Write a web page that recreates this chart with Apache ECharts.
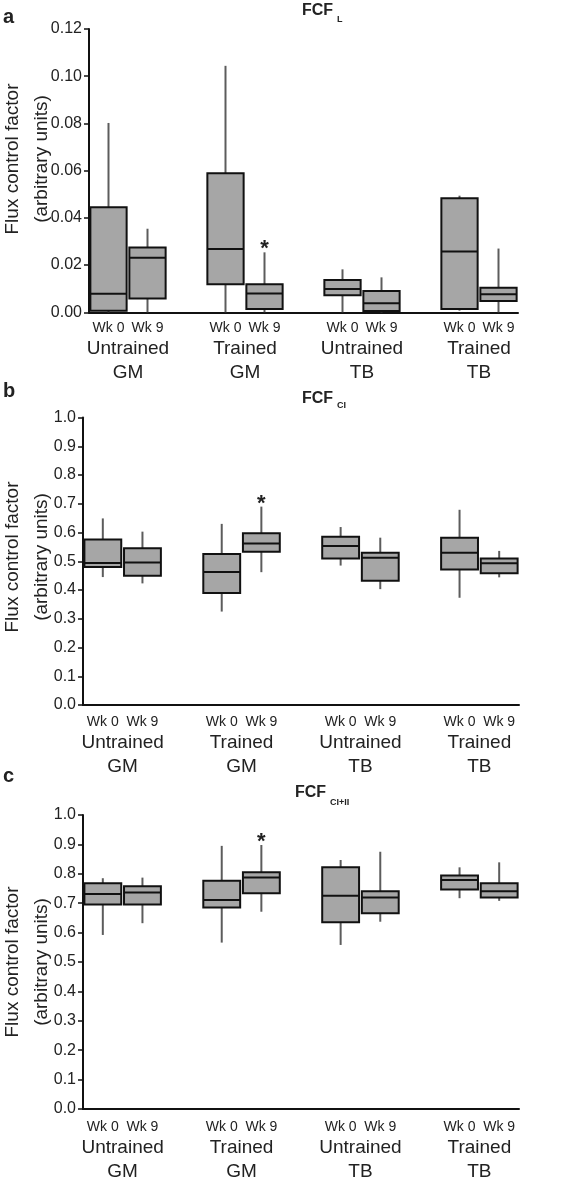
<!DOCTYPE html>
<html>
<head>
<meta charset="utf-8">
<script src="https://cdn.jsdelivr.net/npm/echarts@6/dist/echarts.min.js"></script>
<style>
  html, body { margin: 0; padding: 0; background: #fff; }
  #chart { width: 566px; height: 1181px; }
</style>
</head>
<body>
<div id="chart"></div>
<script>
// ---- data ----
const weekLabels = ['Wk 0', 'Wk 9'];
const groupLabels = ['Untrained\nGM', 'Trained\nGM', 'Untrained\nTB', 'Trained\nTB'];
// box order: UGM wk0, UGM wk9, TGM wk0, TGM wk9, UTB wk0, UTB wk9, TTB wk0, TTB wk9
const yTicksA = [0, 0.02, 0.04, 0.06, 0.08, 0.10, 0.12];
const yTicksBC = [0, 0.1, 0.2, 0.3, 0.4, 0.5, 0.6, 0.7, 0.8, 0.9, 1.0];

const aMin = [0.000, 0.000, 0.000, 0.000, 0.000, 0.000, 0.0007, 0.000];
const aQ1  = [0.0007, 0.0058, 0.0119, 0.0014, 0.0072, 0.0005, 0.0014, 0.0048];
const aMed = [0.0079, 0.0231, 0.0268, 0.0080, 0.0099, 0.0038, 0.0258, 0.0076];
const aQ3  = [0.0445, 0.0275, 0.0589, 0.0119, 0.0137, 0.0090, 0.0483, 0.0104];
const aMax = [0.0802, 0.0354, 0.1044, 0.0254, 0.0182, 0.0148, 0.0494, 0.0270];

const bMin = [0.445, 0.423, 0.325, 0.462, 0.485, 0.403, 0.373, 0.444];
const bQ1  = [0.480, 0.450, 0.390, 0.533, 0.510, 0.432, 0.471, 0.458];
const bMed = [0.494, 0.496, 0.463, 0.562, 0.553, 0.512, 0.530, 0.493];
const bQ3  = [0.576, 0.545, 0.525, 0.597, 0.585, 0.530, 0.582, 0.510];
const bMax = [0.649, 0.603, 0.630, 0.690, 0.619, 0.582, 0.679, 0.536];

const cMin = [0.592, 0.632, 0.566, 0.671, 0.558, 0.637, 0.717, 0.708];
const cQ1  = [0.696, 0.696, 0.685, 0.734, 0.635, 0.666, 0.747, 0.719];
const cMed = [0.731, 0.736, 0.711, 0.787, 0.725, 0.719, 0.779, 0.741];
const cQ3  = [0.768, 0.758, 0.776, 0.805, 0.822, 0.741, 0.794, 0.768];
const cMax = [0.785, 0.787, 0.895, 0.898, 0.847, 0.875, 0.822, 0.839];

// significance (*) : Trained GM Wk 9
const sigBox = [3];

// ---- build ----
const FONT = 'Liberation Sans, Arial, Helvetica, sans-serif';
function slotOf(i) { return Math.floor(i / 2) * 3 + (i % 2); }
function buildData(mn, q1, md, q3, mx) {
  return mn.map((v, i) => [slotOf(i), mn[i], q1[i], md[i], q3[i], mx[i], sigBox.includes(i) ? 1 : 0]);
}

function renderBox(params, api) {
  const x = api.value(0);
  const lo = api.coord([x, api.value(1)]);
  const q1 = api.coord([x, api.value(2)]);
  const md = api.coord([x, api.value(3)]);
  const q3 = api.coord([x, api.value(4)]);
  const hi = api.coord([x, api.value(5)]);
  const w = api.size([1, 0])[0] * 0.93;
  const cx = lo[0];
  const children = [
    { type: 'line', shape: { x1: cx, y1: lo[1], x2: cx, y2: hi[1] },
      style: { stroke: '#5c5c5c', lineWidth: 2 } },
    { type: 'rect', shape: { x: cx - w / 2, y: q3[1], width: w, height: q1[1] - q3[1] },
      style: { fill: '#a6a6a6', stroke: '#111', lineWidth: 2 } },
    { type: 'line', shape: { x1: cx - w / 2, y1: md[1], x2: cx + w / 2, y2: md[1] },
      style: { stroke: '#111', lineWidth: 2 } }
  ];
  if (api.value(6) === 1) {
    children.push({ type: 'text', x: cx, y: hi[1] - 3,
      style: { text: '*', fill: '#222', font: 'bold 22px ' + FONT, textAlign: 'center', textVerticalAlign: 'middle' } });
  }
  return { type: 'group', children };
}

const panels = [
  { top: 29, height: 283.3, left: 89, right: 48, max: 0.12, interval: 0.02, dec: 2,
    data: buildData(aMin, aQ1, aMed, aQ3, aMax), wkMargin: 9, grpMargin: 24 },
  { top: 417.5, height: 287.5, left: 83, right: 47, max: 1.0, interval: 0.1, dec: 1,
    data: buildData(bMin, bQ1, bMed, bQ3, bMax), wkMargin: 10, grpMargin: 26 },
  { top: 815, height: 294, left: 83, right: 47, max: 1.0, interval: 0.1, dec: 1,
    data: buildData(cMin, cQ1, cMed, cQ3, cMax), wkMargin: 11, grpMargin: 27 }
];

const grid = [], xAxis = [], yAxis = [], series = [];
panels.forEach((p, k) => {
  grid.push({ left: p.left, right: p.right, top: p.top, height: p.height,
    containLabel: false, outerBoundsMode: 'none' });
  xAxis.push({
    type: 'value', gridIndex: k, min: -0.5, max: 10.5, interval: 0.5,
    axisLine: { show: true, onZero: false, lineStyle: { color: '#111', width: 2 } },
    axisTick: { show: false }, splitLine: { show: false },
    axisLabel: {
      margin: p.wkMargin, fontSize: 14, color: '#222', fontFamily: FONT,
      showMinLabel: true, showMaxLabel: true,
      formatter: v => {
        const r = Math.round(v * 2) / 2;
        if (Number.isInteger(r)) { const m = r % 3; if (m === 0) return weekLabels[0]; if (m === 1) return weekLabels[1]; }
        return '';
      }
    }
  });
  xAxis.push({
    type: 'value', gridIndex: k, min: -0.5, max: 10.5, interval: 0.5, position: 'bottom',
    axisLine: { show: false, onZero: false }, axisTick: { show: false }, splitLine: { show: false },
    axisLabel: {
      margin: p.grpMargin, fontSize: 19, lineHeight: 24, color: '#222', fontFamily: FONT,
      formatter: v => {
        const g = (Math.round(v * 2) / 2 - 0.5) / 3;
        return (Number.isInteger(g) && g >= 0 && g < groupLabels.length) ? groupLabels[g] : '';
      }
    }
  });
  yAxis.push({
    type: 'value', gridIndex: k, min: 0, max: p.max, interval: p.interval,
    axisLine: { show: true, onZero: false, lineStyle: { color: '#111', width: 2 } },
    axisTick: { show: true, length: 5, lineStyle: { color: '#111', width: 1.5 } },
    splitLine: { show: false },
    axisLabel: { margin: 7, fontSize: 16, color: '#222', fontFamily: FONT,
      formatter: v => v.toFixed(p.dec) }
  });
  series.push({
    type: 'custom', xAxisIndex: k * 2, yAxisIndex: k, data: p.data,
    renderItem: renderBox, encode: { x: 0, y: [1, 2, 3, 4, 5] }, animation: false, silent: true
  });
});

const graphic = [];
const letters = [['a', 18], ['b', 392], ['c', 777]];
letters.forEach(([t, y]) => graphic.push({ type: 'text', left: 3, top: y - 11,
  style: { text: t, font: 'bold 20px ' + FONT, fill: '#222' } }));

const titles = [
  { main: 'FCF', sub: 'L', x: 302, y: 10.5, sy: 19.5 },
  { main: 'FCF', sub: 'CI', x: 302, y: 399, sy: 406 },
  { main: 'FCF', sub: 'CI+II', x: 295, y: 792.5, sy: 803 }
];
titles.forEach(t => {
  graphic.push({ type: 'text', x: t.x, y: t.y,
    style: { text: t.main, font: 'bold 16px ' + FONT, fill: '#222', textVerticalAlign: 'middle' } });
  graphic.push({ type: 'text', x: t.x + 35, y: t.sy,
    style: { text: t.sub, font: 'bold 9px ' + FONT, fill: '#222', textVerticalAlign: 'middle' } });
});

const yNameCenters = [159, 557, 962];
yNameCenters.forEach(cy => {
  graphic.push({ type: 'text', x: 27, y: cy, rotation: Math.PI / 2,
    style: { text: 'Flux control factor\n(arbitrary units)', font: '19px ' + FONT, fill: '#222',
      textAlign: 'center', textVerticalAlign: 'middle', lineHeight: 29 } });
});

const chart = echarts.init(document.getElementById('chart'), null, { renderer: 'canvas' });
chart.setOption({ animation: false, backgroundColor: '#fff', grid, xAxis, yAxis, series, graphic });
</script>
</body>
</html>
